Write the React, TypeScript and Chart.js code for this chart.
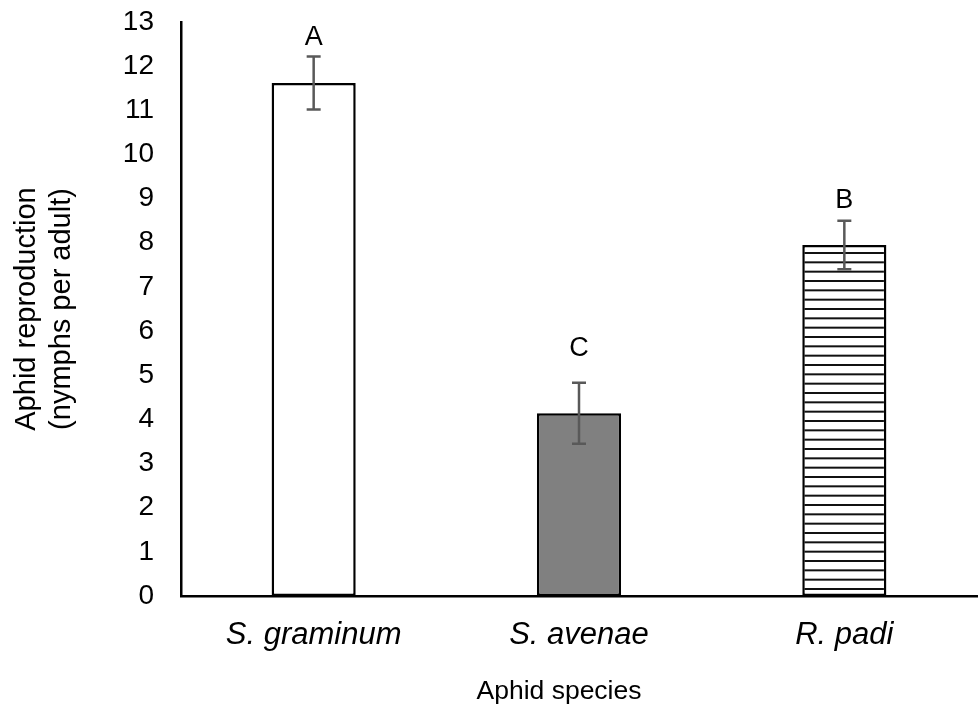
import React, { useEffect, useRef } from "react";
import { Chart, registerables } from "chart.js";

Chart.register(...registerables);

const categories = ["S. graminum", "S. avenae", "R. padi"];
const means = [11.62, 4.14, 7.95];
const errors = [0.6, 0.69, 0.55];
const letters = ["A", "C", "B"];
const letterLevels = [12.65, 5.6, 8.95];
const yTicksMax = 13;
const xTitle = "Aphid species";

const FONT = "'Liberation Sans', Arial, sans-serif";

function makeStripePattern(): CanvasPattern | string {
  const c = document.createElement("canvas");
  c.width = 12;
  c.height = 28;
  const g = c.getContext("2d");
  if (!g) return "#fff";
  g.fillStyle = "#ffffff";
  g.fillRect(0, 0, 12, 28);
  g.fillStyle = "#111111";
  for (let i = 0; i < 3; i++) {
    g.fillRect(0, i * (28 / 3), 12, 2);
  }
  const p = g.createPattern(c, "repeat");
  return p || "#fff";
}

const errorBarPlugin = {
  id: "errorBars",
  afterDatasetsDraw(chart: any) {
    const { ctx } = chart;
    const meta = chart.getDatasetMeta(0);
    const y = chart.scales.y;
    ctx.save();
    meta.data.forEach((bar: any, i: number) => {
      const x = bar.x;
      const top = y.getPixelForValue(means[i] + errors[i]);
      const bot = y.getPixelForValue(means[i] - errors[i]);
      const cap = 7;
      ctx.strokeStyle = "#595959";
      ctx.lineWidth = 2.5;
      ctx.beginPath();
      ctx.moveTo(x, top);
      ctx.lineTo(x, bot);
      ctx.moveTo(x - cap, top);
      ctx.lineTo(x + cap, top);
      ctx.moveTo(x - cap, bot);
      ctx.lineTo(x + cap, bot);
      ctx.stroke();
      ctx.fillStyle = "#000";
      ctx.font = `27px ${FONT}`;
      ctx.textAlign = "center";
      ctx.textBaseline = "middle";
      ctx.fillText(letters[i], x, y.getPixelForValue(letterLevels[i]));
    });
    ctx.restore();
  },
  afterDraw(chart: any) {
    const { ctx, chartArea } = chart;
    ctx.save();
    ctx.fillStyle = "#000";
    ctx.font = `26.5px ${FONT}`;
    ctx.textAlign = "center";
    ctx.textBaseline = "middle";
    const cx = (chartArea.left + chartArea.right) / 2 - 20;
    ctx.fillText(xTitle, cx, chart.height - 33);
    ctx.restore();
  },
};

export default function App() {
  const ref = useRef<HTMLCanvasElement>(null);
  useEffect(() => {
    if (!ref.current) return;
    const stripes = makeStripePattern();
    const chart = new Chart(ref.current, {
      type: "bar",
      data: {
        labels: categories,
        datasets: [
          {
            data: means,
            backgroundColor: ["#ffffff", "#808080", stripes as any],
            borderColor: "#000",
            borderWidth: 2.5,
            borderSkipped: false,
            barPercentage: 0.317,
            categoryPercentage: 1,
          },
        ],
      },
      options: {
        responsive: false,
        animation: false,
        layout: { padding: { top: 0, right: 2, left: 0, bottom: 0 } },
        plugins: {
          legend: { display: false },
          tooltip: { enabled: false },
        },
        scales: {
          x: {
            grid: { display: false, drawTicks: false },
            border: { display: true, color: "#000", width: 2.5 },
            ticks: {
              color: "#000",
              padding: 21,
              font: { family: FONT, size: 31, style: "italic" },
            },
            afterFit(scale: any) {
              scale.height = 129;
            },
          },
          y: {
            min: 0,
            max: yTicksMax,
            grid: { display: false, drawTicks: false },
            border: { display: true, color: "#000", width: 2.5 },
            ticks: {
              stepSize: 1,
              color: "#000",
              padding: 27,
              font: { family: FONT, size: 28 },
            },
            title: {
              display: true,
              text: ["Aphid reproduction", "(nymphs per adult)"],
              color: "#000",
              font: { family: FONT, size: 29, lineHeight: 1.22 },
              padding: { top: 9, bottom: 0 },
            },
            afterFit(scale: any) {
              scale.width = 181;
              scale.paddingTop = 22;
              scale.paddingBottom = 0;
            },
          },
        },
      },
      plugins: [errorBarPlugin],
    });
    return () => chart.destroy();
  }, []);
  return (
    <div style={{ position: "fixed", left: 0, top: 0, width: 979, height: 725, background: "#fff" }}>
      <canvas ref={ref} width={979} height={725} />
    </div>
  );
}
